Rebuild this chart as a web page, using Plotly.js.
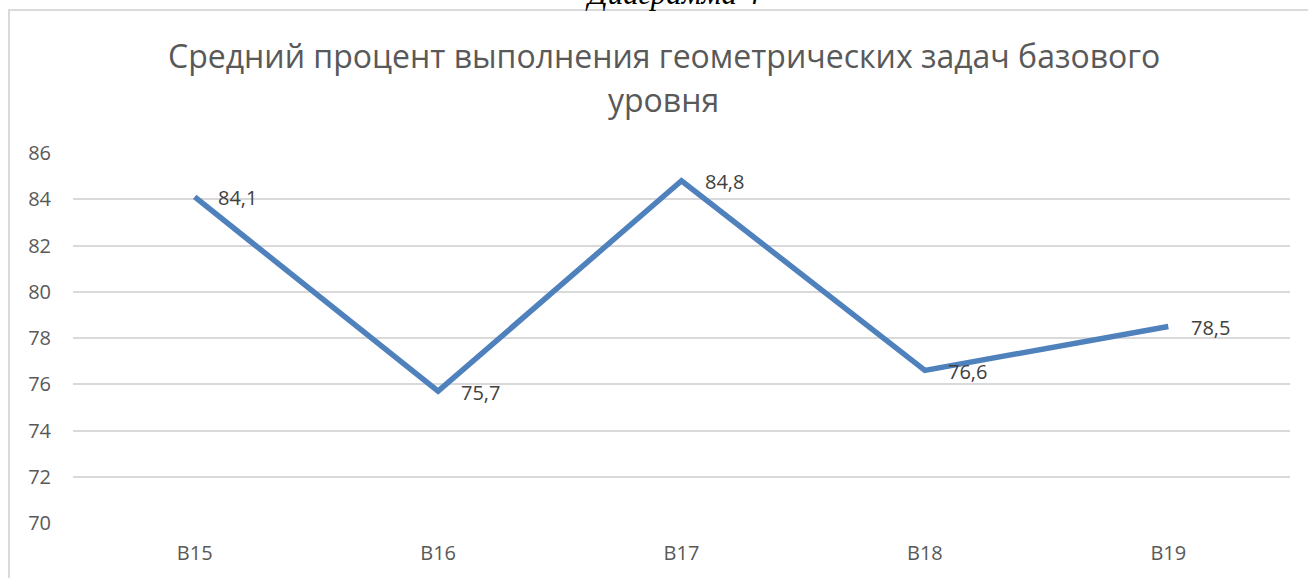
<!DOCTYPE html>
<html>
<head>
<meta charset="utf-8">
<script src="https://cdn.plot.ly/plotly-3.0.1.min.js"></script>
<style>
  body { margin: 0; background: #fff; overflow: hidden; }
  #chart { position: absolute; left: 0; top: 0; width: 1308px; height: 578px; }
  #frame { position: absolute; left: 8px; top: 9px; width: 1310px; height: 580px;
           border-left: 2px solid #dadada; border-top: 2px solid #dadada; pointer-events: none; }
  #caption { position: absolute; left: 588px; top: -22px; font-family: "Liberation Serif", serif;
             font-style: italic; font-size: 31px; line-height: 1; color: #000; white-space: nowrap; }
</style>
</head>
<body>
<div id="chart"></div>
<div id="frame"></div>
<div id="caption">Диаграмма 4</div>
<script>
// categories and average completion percent
const tasks = ['B15', 'B16', 'B17', 'B18', 'B19'];
const percent = [84.1, 75.7, 84.8, 76.6, 78.5];
const yTicks = [70, 72, 74, 76, 78, 80, 82, 84, 86];
const titleLines = ['Средний процент выполнения геометрических задач базового', 'уровня'];

const lineTrace = {
    x: tasks,
    y: percent,
    mode: 'lines',
    type: 'scatter',
    line: {color: '#4f81bd', width: 5.5}
};

// value labels to the right of each point
const labels = tasks.map((t, i) => ({
    x: t,
    y: percent[i],
    xref: 'x',
    yref: 'y',
    text: percent[i].toFixed(1).replace('.', ','),
    showarrow: false,
    xanchor: 'left',
    yanchor: 'middle',
    xshift: 21,
    yshift: -1,
    font: {family: 'Open Sans, sans-serif', size: 20, color: '#404040'}
}));

// chart title, two lines centred on the whole chart area (not the plot)
const titleY = [55, 100];
const titleNotes = titleLines.map((line, i) => ({
    x: 0.5,
    y: 1 + (153 - titleY[i]) / 370,
    xref: 'paper',
    yref: 'paper',
    xanchor: 'center',
    yanchor: 'middle',
    xshift: -18,
    showarrow: false,
    text: line,
    font: {family: 'Open Sans, sans-serif', size: 32, color: '#595959'}
}));

const layout = {
    width: 1308,
    height: 578,
    margin: {l: 73, r: 18, t: 153, b: 55},
    paper_bgcolor: 'rgba(0,0,0,0)',
    plot_bgcolor: 'rgba(0,0,0,0)',
    showlegend: false,
    annotations: titleNotes.concat(labels),
    xaxis: {
        type: 'category',
        range: [-0.5, 4.5],
        showgrid: false,
        zeroline: false,
        showline: false,
        ticks: '',
        ticklabelstandoff: 16,
        tickfont: {family: 'Open Sans, sans-serif', size: 20, color: '#595959'}
    },
    yaxis: {
        range: [70, 86],
        tickvals: yTicks,
        showgrid: true,
        gridcolor: '#d9d9d9',
        gridwidth: 2,
        zeroline: false,
        showline: false,
        ticks: '',
        ticklabelstandoff: 21,
        tickfont: {family: 'Open Sans, sans-serif', size: 20, color: '#595959'}
    }
};

Plotly.newPlot('chart', [lineTrace], layout, {displayModeBar: false, staticPlot: true});
</script>
</body>
</html>
